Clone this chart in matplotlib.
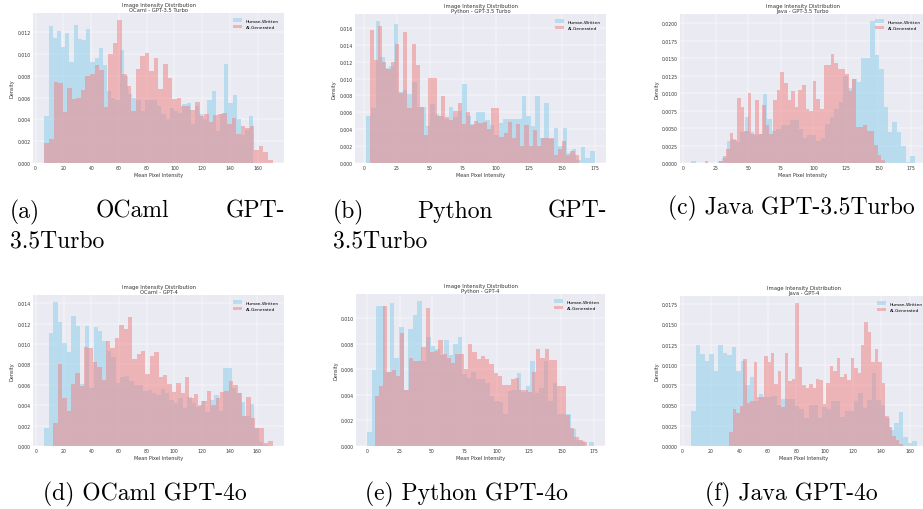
import numpy as np
import matplotlib
matplotlib.use("Agg")
import matplotlib.pyplot as plt
from matplotlib.ticker import MultipleLocator

# ---------------- data (bin densities) ----------------
languages = ["OCaml", "Python", "Java", "OCaml", "Python", "Java"]
models = ["GPT-3.5 Turbo", "GPT-3.5 Turbo", "GPT-3.5 Turbo", "GPT-4", "GPT-4", "GPT-4"]
captions = ["(a) OCaml GPT-3.5Turbo", "(b) Python GPT-3.5Turbo", "(c) Java GPT-3.5Turbo",
            "(d) OCaml GPT-4o", "(e) Python GPT-4o", "(f) Java GPT-4o"]
series_labels = ["Human-Written", "AI-Generated"]
x_tick_steps = [20, 25, 25, 20, 25, 20]

# value ranges (min, max mean pixel intensity) of each sample
human_a_range = (6.3, 157.0)
ai_a_range = (6.3, 170.8)
human_b_range = (1.8, 175.0)
ai_b_range = (4.3, 163.0)
human_c_range = (6.0, 178.0)
ai_c_range = (16.3, 155.0)
human_d_range = (6.2, 167.5)
ai_d_range = (12.7, 171.0)
human_e_range = (0.0, 175.0)
ai_e_range = (5.7, 170.0)
human_f_range = (6.1, 165.0)
ai_f_range = (33.0, 155.0)

human_a = [0.0043, 0.0126, 0.0115, 0.0121, 0.0106, 0.0119, 0.0093, 0.0127, 0.0114, 0.0113,
           0.0123, 0.0093, 0.0096, 0.0105, 0.0090, 0.0066, 0.0060, 0.0058, 0.0104, 0.0080,
           0.0063, 0.0060, 0.0058, 0.0048, 0.0058, 0.0058, 0.0058, 0.0052, 0.0045, 0.0040,
           0.0050, 0.0048, 0.0046, 0.0054, 0.0055, 0.0036, 0.0052, 0.0045, 0.0040, 0.0058,
           0.0066, 0.0029, 0.0045, 0.0091, 0.0055, 0.0062, 0.0040, 0.0026, 0.0030, 0.0043]
ai_a = [0.0018, 0.0022, 0.0074, 0.0073, 0.0047, 0.0069, 0.0059, 0.0060, 0.0067, 0.0080,
        0.0082, 0.0090, 0.0085, 0.0051, 0.0100, 0.0110, 0.0131, 0.0082, 0.0071, 0.0048,
        0.0086, 0.0098, 0.0101, 0.0084, 0.0096, 0.0068, 0.0091, 0.0078, 0.0059, 0.0060,
        0.0052, 0.0052, 0.0049, 0.0056, 0.0043, 0.0045, 0.0038, 0.0044, 0.0045, 0.0046,
        0.0036, 0.0041, 0.0027, 0.0034, 0.0032, 0.0034, 0.0012, 0.0016, 0.0010, 0.0003]

human_b = [0.0056, 0.0065, 0.0168, 0.0126, 0.0112, 0.0115, 0.0164, 0.0084, 0.0086, 0.0082,
           0.0096, 0.0066, 0.0066, 0.0044, 0.0070, 0.0058, 0.0056, 0.0052, 0.0066, 0.0055,
           0.0061, 0.0093, 0.0056, 0.0046, 0.0060, 0.0060, 0.0051, 0.0045, 0.0033, 0.0047,
           0.0052, 0.0052, 0.0052, 0.0052, 0.0079, 0.0056, 0.0044, 0.0079, 0.0030, 0.0071,
           0.0028, 0.0042, 0.0020, 0.0042, 0.0012, 0.0017, 0.0004, 0.0019, 0.0006, 0.0014]
ai_b = [0.0157, 0.0122, 0.0162, 0.0120, 0.0111, 0.0119, 0.0141, 0.0083, 0.0155, 0.0065,
        0.0141, 0.0116, 0.0066, 0.0033, 0.0101, 0.0101, 0.0056, 0.0079, 0.0055, 0.0051,
        0.0062, 0.0071, 0.0046, 0.0060, 0.0045, 0.0050, 0.0047, 0.0049, 0.0040, 0.0065,
        0.0065, 0.0031, 0.0036, 0.0049, 0.0030, 0.0046, 0.0020, 0.0045, 0.0020, 0.0039,
        0.0020, 0.0030, 0.0030, 0.0030, 0.0010, 0.0017, 0.0026, 0.0010, 0.0014, 0.0009]

human_c = [0.0003, 0.0, 0.0, 0.0, 0.0, 0.0, 0.0003, 0.0007, 0.0032, 0.0034,
           0.0030, 0.0045, 0.0066, 0.0045, 0.0040, 0.0042, 0.0099, 0.0063, 0.0046, 0.0048,
           0.0055, 0.0055, 0.0061, 0.0061, 0.0048, 0.0036, 0.0040, 0.0040, 0.0031, 0.0036,
           0.0056, 0.0066, 0.0077, 0.0087, 0.0125, 0.0107, 0.0120, 0.0116, 0.0150, 0.0150,
           0.0203, 0.0154, 0.0134, 0.0080, 0.0045, 0.0058, 0.0045, 0.0024, 0.0002, 0.0010]
ai_c = [0.0003, 0.0, 0.0, 0.0, 0.0003, 0.0010, 0.0020, 0.0043, 0.0033, 0.0093,
        0.0080, 0.0046, 0.0100, 0.0042, 0.0090, 0.0042, 0.0083, 0.0055, 0.0042, 0.0090,
        0.0105, 0.0130, 0.0114, 0.0090, 0.0103, 0.0080, 0.0105, 0.0112, 0.0077, 0.0074,
        0.0118, 0.0092, 0.0077, 0.0140, 0.0140, 0.0156, 0.0143, 0.0134, 0.0134, 0.0128,
        0.0103, 0.0120, 0.0052, 0.0052, 0.0055, 0.0046, 0.0046, 0.0026, 0.0011, 0.0004]

human_d = [0.0018, 0.0111, 0.0141, 0.0122, 0.0101, 0.0092, 0.0127, 0.0118, 0.0061, 0.0118,
           0.0057, 0.0117, 0.0113, 0.0103, 0.0093, 0.0087, 0.0062, 0.0068, 0.0069, 0.0064,
           0.0060, 0.0060, 0.0054, 0.0055, 0.0052, 0.0050, 0.0056, 0.0052, 0.0045, 0.0042,
           0.0047, 0.0037, 0.0048, 0.0042, 0.0038, 0.0044, 0.0033, 0.0045, 0.0050, 0.0034,
           0.0076, 0.0076, 0.0057, 0.0052, 0.0043, 0.0029, 0.0041, 0.0018, 0.0004, 0.0001]
ai_d = [0.0023, 0.0080, 0.0047, 0.0034, 0.0061, 0.0072, 0.0059, 0.0097, 0.0096, 0.0082,
        0.0077, 0.0065, 0.0103, 0.0096, 0.0106, 0.0119, 0.0115, 0.0126, 0.0085, 0.0090,
        0.0093, 0.0071, 0.0088, 0.0092, 0.0068, 0.0070, 0.0061, 0.0053, 0.0062, 0.0052,
        0.0068, 0.0047, 0.0051, 0.0040, 0.0044, 0.0054, 0.0040, 0.0047, 0.0053, 0.0054,
        0.0064, 0.0060, 0.0052, 0.0029, 0.0048, 0.0027, 0.0018, 0.0018, 0.0003, 0.0005]

human_e = [0.0011, 0.0059, 0.0109, 0.0109, 0.0058, 0.0112, 0.0069, 0.0093, 0.0044, 0.0091,
           0.0102, 0.0113, 0.0066, 0.0085, 0.0078, 0.0076, 0.0071, 0.0083, 0.0071, 0.0080,
           0.0085, 0.0056, 0.0053, 0.0058, 0.0052, 0.0052, 0.0049, 0.0039, 0.0035, 0.0034,
           0.0025, 0.0043, 0.0044, 0.0057, 0.0042, 0.0047, 0.0066, 0.0041, 0.0045, 0.0066,
           0.0035, 0.0049, 0.0025, 0.0025, 0.0025, 0.0013, 0.0005, 0.0004, 0.0000, 0.0003]
ai_e = [0.0039, 0.0047, 0.0109, 0.0058, 0.0059, 0.0055, 0.0088, 0.0044, 0.0069, 0.0066,
        0.0066, 0.0077, 0.0108, 0.0073, 0.0074, 0.0083, 0.0072, 0.0069, 0.0065, 0.0072,
        0.0072, 0.0060, 0.0080, 0.0073, 0.0068, 0.0070, 0.0068, 0.0064, 0.0057, 0.0055,
        0.0048, 0.0048, 0.0052, 0.0053, 0.0044, 0.0044, 0.0042, 0.0058, 0.0076, 0.0069,
        0.0076, 0.0067, 0.0067, 0.0047, 0.0047, 0.0024, 0.0014, 0.0007, 0.0005, 0.0003]

human_f = [0.0043, 0.0125, 0.0113, 0.0105, 0.0113, 0.0092, 0.0125, 0.0115, 0.0112, 0.0122,
           0.0092, 0.0105, 0.0075, 0.0085, 0.0055, 0.0064, 0.0060, 0.0060, 0.0062, 0.0050,
           0.0058, 0.0058, 0.0058, 0.0049, 0.0045, 0.0035, 0.0050, 0.0050, 0.0035, 0.0048,
           0.0045, 0.0056, 0.0056, 0.0036, 0.0043, 0.0043, 0.0055, 0.0065, 0.0047, 0.0057,
           0.0090, 0.0057, 0.0051, 0.0034, 0.0020, 0.0028, 0.0042, 0.0011, 0.0004, 0.0006]
ai_f = [0.0017, 0.0046, 0.0041, 0.0049, 0.0107, 0.0053, 0.0056, 0.0103, 0.0060, 0.0060,
        0.0111, 0.0104, 0.0115, 0.0076, 0.0092, 0.0048, 0.0114, 0.0080, 0.0083, 0.0176,
        0.0097, 0.0075, 0.0072, 0.0076, 0.0071, 0.0083, 0.0081, 0.0052, 0.0078, 0.0098,
        0.0093, 0.0108, 0.0085, 0.0089, 0.0081, 0.0109, 0.0096, 0.0090, 0.0124, 0.0153,
        0.0140, 0.0104, 0.0120, 0.0103, 0.0078, 0.0037, 0.0023, 0.0012, 0.0007, 0.0003]

human_sets = [(human_a, human_a_range), (human_b, human_b_range), (human_c, human_c_range),
              (human_d, human_d_range), (human_e, human_e_range), (human_f, human_f_range)]
ai_sets = [(ai_a, ai_a_range), (ai_b, ai_b_range), (ai_c, ai_c_range),
           (ai_d, ai_d_range), (ai_e, ai_e_range), (ai_f, ai_f_range)]

# ---------------- layout (pixels of a 923x510 canvas) ----------------
W, H = 923, 510
fig = plt.figure(figsize=(W / 100, H / 100), dpi=100, facecolor="white")

axes_px = [  # left, right, top, bottom
    (33, 284, 14, 164),
    (355, 606, 15, 164),
    (680, 926, 15, 164),
    (33, 284, 296, 447),
    (356, 605, 295, 447),
    (680, 928, 297, 447),
]

HUMAN_COLOR = "skyblue"
AI_COLOR = "lightcoral"
TXT = "#333333"

for i, (l, r, t, b) in enumerate(axes_px):
    ax = fig.add_axes([l / W, 1 - b / H, (r - l) / W, (b - t) / H])
    ax.set_facecolor("#EAEAF2")
    for s in ax.spines.values():
        s.set_visible(False)
    ax.grid(True, color="white", linewidth=0.35)
    ax.set_axisbelow(True)

    hv, hr = human_sets[i]
    av, ar = ai_sets[i]
    h_edges = np.linspace(hr[0], hr[1], len(hv) + 1)
    a_edges = np.linspace(ar[0], ar[1], len(av) + 1)
    ax.hist(h_edges[:-1], bins=h_edges, weights=hv, color=HUMAN_COLOR, alpha=0.5,
            label=series_labels[0])
    ax.hist(a_edges[:-1], bins=a_edges, weights=av, color=AI_COLOR, alpha=0.5,
            label=series_labels[1])
    ax.xaxis.set_major_locator(MultipleLocator(x_tick_steps[i]))

    ax.set_title(f"Image Intensity Distribution\n{languages[i]} - {models[i]}",
                 fontsize=3.8, color=TXT, pad=1.5, linespacing=1.1)
    ax.set_xlabel("Mean Pixel Intensity", fontsize=3.5, color=TXT, labelpad=1.5)
    ax.set_ylabel("Density", fontsize=3.5, color=TXT, labelpad=2)
    ax.tick_params(axis="both", length=0, pad=1.5, labelsize=3.3, labelcolor=TXT)
    ax.legend(loc="upper right", fontsize=3.2, frameon=False,
              handlelength=2.0, handleheight=0.8, borderaxespad=0.8)

# ---------------- captions ----------------
def fy(y):
    return 1 - y / H

cap_kw = dict(fontsize=17, family="cmr10", color="black", va="baseline",
              transform=fig.transFigure)

# (a) justified over two lines
fig.text(10 / W, fy(218), "(a)", ha="left", **cap_kw)
fig.text(132 / W, fy(218), "OCaml", ha="center", **cap_kw)
fig.text(285 / W, fy(218), "GPT-", ha="right", **cap_kw)
fig.text(10 / W, fy(248), "3.5Turbo", ha="left", **cap_kw)
# (b)
fig.text(333 / W, fy(218), "(b)", ha="left", **cap_kw)
fig.text(455 / W, fy(218), "Python", ha="center", **cap_kw)
fig.text(607 / W, fy(218), "GPT-", ha="right", **cap_kw)
fig.text(333 / W, fy(248), "3.5Turbo", ha="left", **cap_kw)
# (c)
fig.text(668 / W, fy(214), captions[2], ha="left", **cap_kw)
# bottom row
fig.text(43 / W, fy(500), captions[3], ha="left", **cap_kw)
fig.text(365 / W, fy(500), captions[4], ha="left", **cap_kw)
fig.text(705 / W, fy(500), captions[5], ha="left", **cap_kw)

fig.savefig("out.png", dpi=100, facecolor="white")
